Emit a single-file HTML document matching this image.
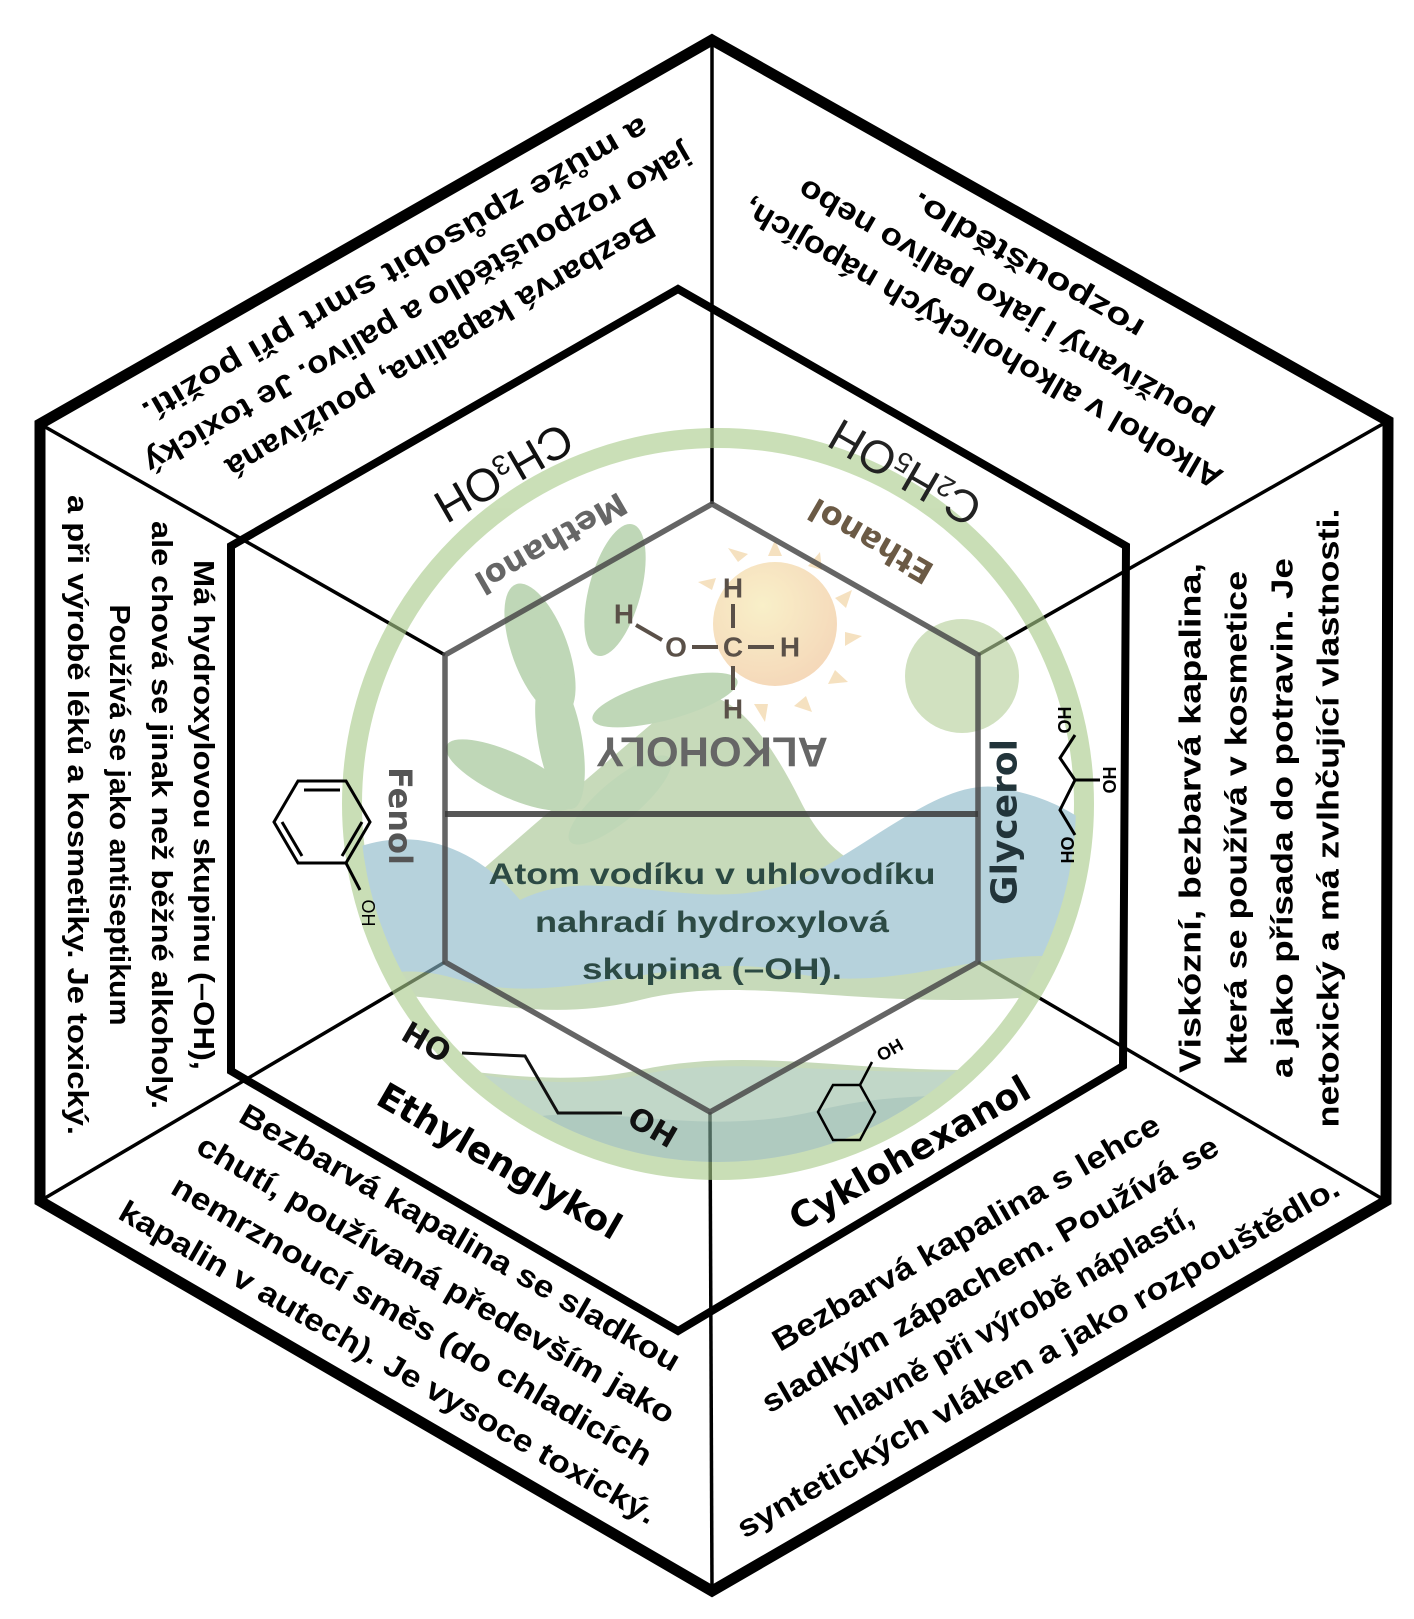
<!DOCTYPE html>
<html><head><meta charset="utf-8"><style>
html,body{margin:0;padding:0;background:#fff}
svg{display:block}
text{font-family:"Liberation Sans","DejaVu Sans",sans-serif;font-weight:bold}
.dj{font-family:"DejaVu Sans","Liberation Sans",sans-serif}
</style></head><body>
<svg width="1414" height="1619" viewBox="0 0 1414 1619" xmlns="http://www.w3.org/2000/svg">
<defs>
<clipPath id="cc"><circle cx="718" cy="804" r="358"/></clipPath>
<radialGradient id="sun" cx="0.4" cy="0.35" r="0.7"><stop offset="0" stop-color="#f6e7a8"/><stop offset="1" stop-color="#efc08f"/></radialGradient>
</defs>
<rect width="1414" height="1619" fill="#fff"/>

<g stroke="#000" stroke-width="3.5" fill="none">
<line x1="712" y1="504" x2="712" y2="40"/>
<line x1="445" y1="655" x2="40" y2="424"/>
<line x1="978" y1="655" x2="1388" y2="421"/>
<line x1="445" y1="962" x2="40" y2="1201"/>
<line x1="978" y1="962" x2="1386" y2="1201"/>
<line x1="710" y1="1112" x2="712" y2="1591"/>
</g>
<polygon points="678,289 1126,546 1123,1066 678,1331 231,1071 231,546" fill="none" stroke="#000" stroke-width="8"/>
<polygon points="712,40 1388,421 1386,1201 712,1591 40,1201 40,424" fill="none" stroke="#000" stroke-width="11"/>

<g opacity="0.62">
<circle cx="718" cy="804" r="366" fill="none" stroke="#a9cb8a" stroke-width="20"/>
<g clip-path="url(#cc)">
<circle cx="775" cy="624" r="62" fill="url(#sun)"/>
<g fill="#f0cf9a">
<polygon points="775,540 768,556 782,556"/><polygon points="820,552 808,566 822,570"/><polygon points="852,590 835,598 846,608"/>
<polygon points="862,636 845,632 845,646"/><polygon points="848,682 835,670 828,684"/><polygon points="812,712 806,696 794,706"/>
<polygon points="765,722 768,704 754,704"/><polygon points="728,548 738,562 748,554"/><polygon points="698,582 712,590 716,578"/>
</g>
<circle cx="962" cy="676" r="57" fill="#b5d09a"/>
<path d="M330,1000 C450,900 560,800 680,700 C720,680 760,720 800,800 C840,880 900,900 1100,880 L1100,1200 L330,1200 Z" fill="#a6c490"/>
<path d="M330,860 C400,820 470,840 520,900 C600,860 700,920 800,880 C880,840 950,770 1010,790 C1060,800 1080,820 1100,830 L1100,960 C980,940 900,1000 780,970 C680,950 560,1010 460,980 C400,960 360,980 330,990 Z" fill="#8ab8c8"/>
<path d="M330,1000 C430,980 520,1030 640,1000 C760,970 880,1020 1100,990 L1100,1060 C900,1090 780,1040 640,1070 C520,1095 420,1050 330,1070 Z" fill="#fff"/>
<path d="M330,1070 C430,1050 520,1100 640,1075 C760,1050 880,1090 1100,1060 L1100,1200 L330,1200 Z" fill="#9cbfa8"/>
<path d="M520,1120 C600,1100 700,1140 820,1110 C900,1090 960,1100 1020,1090 L1020,1200 L520,1200 Z" fill="#7faa98"/>
<g fill="#98bf8c">
<ellipse cx="540" cy="650" rx="28" ry="70" transform="rotate(-20 540 650)"/>
<ellipse cx="615" cy="590" rx="26" ry="68" transform="rotate(15 615 590)"/>
<ellipse cx="665" cy="700" rx="75" ry="20" transform="rotate(-15 665 700)"/>
<ellipse cx="510" cy="775" rx="70" ry="22" transform="rotate(25 510 775)"/>
<ellipse cx="560" cy="740" rx="22" ry="70" transform="rotate(-10 560 740)"/>
<ellipse cx="620" cy="800" rx="65" ry="20" transform="rotate(-40 620 800)"/>
</g>
</g>
</g>

<polygon points="712,504 978,655 978,962 710,1112 445,962 445,655" fill="none" stroke="#4a4a4a" stroke-width="5.5" stroke-opacity="0.85"/>
<line x1="445" y1="814" x2="978" y2="814" stroke="#3a3a3a" stroke-width="6" stroke-opacity="0.85"/>

<g fill="#5a5048" font-size="28" text-anchor="middle" dominant-baseline="central">
<text x="624" y="614">H</text><text x="676" y="647">O</text><text x="733" y="647">C</text><text x="790" y="647">H</text><text x="733" y="588">H</text><text x="733" y="709">H</text>
</g>
<g stroke="#5a5048" stroke-width="4"><line x1="636" y1="625" x2="662" y2="640"/><line x1="692" y1="647" x2="718" y2="647"/><line x1="748" y1="647" x2="774" y2="647"/><line x1="733" y1="604" x2="733" y2="628"/><line x1="733" y1="666" x2="733" y2="690"/></g>
<text transform="translate(712,752) rotate(180)" font-size="42" fill="#666" text-anchor="middle" dominant-baseline="central">ALKOHOLY</text>
<g class="dj" font-size="30" fill="#2c4a44" text-anchor="middle" lengthAdjust="spacingAndGlyphs">
<text x="712" y="884" textLength="447" lengthAdjust="spacingAndGlyphs">Atom vodíku v uhlovodíku</text>
<text x="712" y="932" textLength="354" lengthAdjust="spacingAndGlyphs">nahradí hydroxylová</text>
<text x="712" y="979" textLength="260" lengthAdjust="spacingAndGlyphs">skupina (–OH).</text>
</g>

<text class="dj" transform="translate(551,543) rotate(150)" font-size="32" fill="#666" text-anchor="middle" dominant-baseline="central">Methanol</text>
<text transform="translate(504,473) rotate(150)" font-size="46" fill="#111" style="font-weight:normal" text-anchor="middle" dominant-baseline="central">CH<tspan font-size="28" dy="8">3</tspan><tspan dy="-8">OH</tspan></text>
<text class="dj" transform="translate(871,541) rotate(210)" font-size="32" fill="#6b5a45" text-anchor="middle" dominant-baseline="central">Ethanol</text>
<text transform="translate(905,473) rotate(210)" font-size="46" fill="#222" style="font-weight:normal" text-anchor="middle" dominant-baseline="central">C<tspan font-size="28" dy="8">2</tspan><tspan dy="-8">H</tspan><tspan font-size="28" dy="8">5</tspan><tspan dy="-8">OH</tspan></text>
<text class="dj" transform="translate(400,816) rotate(90)" font-size="32" fill="#555" text-anchor="middle" dominant-baseline="central">Fenol</text>
<text class="dj" transform="translate(1005,822) rotate(-90)" font-size="36" fill="#22343a" text-anchor="middle" dominant-baseline="central">Glycerol</text>
<text class="dj" transform="translate(499,1162) rotate(30)" font-size="36" fill="#000" text-anchor="middle" dominant-baseline="central">Ethylenglykol</text>
<text class="dj" transform="translate(910,1154) rotate(-30)" font-size="36" fill="#000" text-anchor="middle" dominant-baseline="central">Cyklohexanol</text>

<g fill="none" stroke="#000" stroke-width="3">
<polygon points="298,781 346,781 370,822 346,863 298,863 274,822"/>
<line x1="304" y1="790" x2="340" y2="790"/><line x1="282" y1="822" x2="302" y2="856"/><line x1="362" y1="822" x2="342" y2="856"/>
<line x1="346" y1="863" x2="360" y2="890"/>
</g>
<text transform="translate(368,913) rotate(90)" font-size="18" fill="#000" style="font-weight:normal" text-anchor="middle" dominant-baseline="central">OH</text>

<g fill="none" stroke="#000" stroke-width="3"><polyline points="1075,735 1060,758 1075,780 1060,810 1075,835"/><line x1="1075" y1="780" x2="1100" y2="780"/></g>
<g font-size="18" fill="#000" style="font-weight:normal" text-anchor="middle" dominant-baseline="central">
<text transform="translate(1065,720) rotate(-90)">OH</text>
<text transform="translate(1110,780) rotate(-90)">OH</text>
<text transform="translate(1068,850) rotate(-90)">HO</text>
</g>

<g fill="none" stroke="#000" stroke-width="2.5"><polygon points="833,1085 860,1085 875,1112 860,1140 833,1140 818,1112"/><line x1="860" y1="1085" x2="872" y2="1062"/></g>
<text transform="translate(890,1050) rotate(-30)" font-size="18" fill="#000" text-anchor="middle" dominant-baseline="central">OH</text>

<text class="dj" transform="translate(426,1043) rotate(30)" font-size="30" fill="#111" text-anchor="middle" dominant-baseline="central">HO</text>
<polyline points="462,1053 525,1056 558,1113 622,1113" fill="none" stroke="#111" stroke-width="3"/>
<text class="dj" transform="translate(652,1128) rotate(30)" font-size="30" fill="#111" text-anchor="middle" dominant-baseline="central">OH</text>

<g class="dj" fill="#000" text-anchor="middle" dominant-baseline="central" font-size="31">
<g transform="translate(418,309) rotate(150)">
<text y="-45" textLength="490" lengthAdjust="spacingAndGlyphs">Bezbarvá kapalina, používaná</text>
<text y="0" textLength="626" lengthAdjust="spacingAndGlyphs">jako rozpouštědlo a palivo. Je toxický</text>
<text y="45" textLength="579" lengthAdjust="spacingAndGlyphs">a může způsobit smrt při požití.</text>
</g>
<g transform="translate(1005,305) rotate(210)">
<text y="-45" textLength="548" lengthAdjust="spacingAndGlyphs">Alkohol v alkoholických nápojích,</text>
<text y="0" textLength="472" lengthAdjust="spacingAndGlyphs">používaný i jako palivo nebo</text>
<text y="45" textLength="263" lengthAdjust="spacingAndGlyphs">rozpouštědlo.</text>
</g>
<g transform="translate(1259,818) rotate(-90)">
<text y="-69" textLength="510" lengthAdjust="spacingAndGlyphs">Viskózní, bezbarvá kapalina,</text>
<text y="-23" textLength="494" lengthAdjust="spacingAndGlyphs">která se používá v kosmetice</text>
<text y="23" textLength="520" lengthAdjust="spacingAndGlyphs">a jako přísada do potravin. Je</text>
<text y="69" textLength="619" lengthAdjust="spacingAndGlyphs">netoxický a má zvlhčující vlastnosti.</text>
</g>
<g transform="translate(140,815) rotate(90)" font-size="29">
<text y="-63" textLength="510" lengthAdjust="spacingAndGlyphs">Má hydroxylovou skupinu (–OH),</text>
<text y="-21" textLength="588" lengthAdjust="spacingAndGlyphs">ale chová se jinak než běžné alkoholy.</text>
<text y="21" textLength="421" lengthAdjust="spacingAndGlyphs">Používá se jako antiseptikum</text>
<text y="63" textLength="640" lengthAdjust="spacingAndGlyphs">a při výrobě léků a kosmetiky. Je toxický.</text>
</g>
<g transform="translate(424,1300) rotate(30)">
<text y="-72" textLength="503" lengthAdjust="spacingAndGlyphs">Bezbarvá kapalina se sladkou</text>
<text y="-24" textLength="546" lengthAdjust="spacingAndGlyphs">chutí, používaná především jako</text>
<text y="24" textLength="549" lengthAdjust="spacingAndGlyphs">nemrznoucí směs (do chladicích</text>
<text y="72" textLength="615" lengthAdjust="spacingAndGlyphs">kapalin v autech). Je vysoce toxický.</text>
</g>
<g transform="translate(1002,1295) rotate(-30)">
<text y="-72" textLength="442" lengthAdjust="spacingAndGlyphs">Bezbarvá kapalina s lehce</text>
<text y="-24" textLength="522" lengthAdjust="spacingAndGlyphs">sladkým zápachem. Používá se</text>
<text y="24" textLength="408" lengthAdjust="spacingAndGlyphs">hlavně při výrobě náplastí,</text>
<text y="72" textLength="690" lengthAdjust="spacingAndGlyphs">syntetických vláken a jako rozpouštědlo.</text>
</g>
</g>
</svg>
</body></html>
